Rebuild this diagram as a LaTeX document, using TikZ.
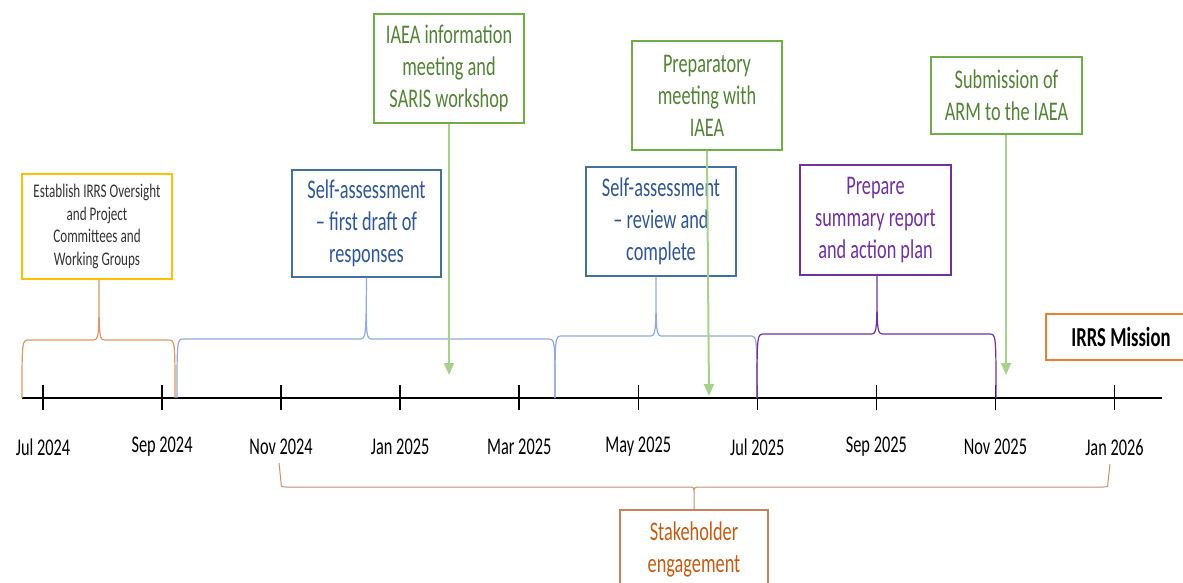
\documentclass[tikz,border=0pt]{standalone}
\usepackage{fontspec}
\setmainfont{Carlito}[FakeStretch=0.68]
\usetikzlibrary{arrows.meta}

\definecolor{gold}{HTML}{FFC000}
\definecolor{esttext}{HTML}{333333}
\definecolor{bracebrown}{RGB}{222,150,100}
\definecolor{braceblue}{HTML}{8FAADC}
\definecolor{boxblue}{HTML}{41719C}
\definecolor{textblue}{HTML}{2F5597}
\definecolor{purp}{HTML}{7030A0}
\definecolor{gborder}{HTML}{70AD47}
\definecolor{gtext}{HTML}{548235}
\definecolor{garrowc}{HTML}{A9D18E}
\definecolor{irrsorange}{HTML}{ED7D31}
\definecolor{stkborder}{RGB}{200,130,90}
\definecolor{stktext}{HTML}{C55A11}
\definecolor{stkbrace}{RGB}{195,145,110}

% upward curly brace: style, left x, right x, top y, middle x, tip point
\newcommand\upbrace[6]{%
  \draw[#1] (#2,398) .. controls (#2,#4) .. (#2+7,#4) -- (#5-7,#4)
    .. controls (#5,#4) .. (#6)
    .. controls (#5,#4) .. (#5+7,#4) -- (#3-7,#4)
    .. controls (#3,#4) .. (#3,398);}

\begin{document}
\begin{tikzpicture}[x=1pt,y=-1pt,
  every node/.style={inner sep=0pt},
  bigtext/.style={font=\fontsize{26.9}{32}\selectfont},
  box/.style={draw, bigtext, align=center, minimum width=150pt, line width=1.6pt},
  estbox/.style={box, draw=gold, text=esttext, line width=2pt,
    font=\fontsize{19.3}{22.7}\selectfont},
  bluebox/.style={box, draw=boxblue, text=textblue, line width=1.4pt},
  purpbox/.style={box, draw=purp, text=purp, line width=1.8pt},
  greenbox/.style={box, draw=gborder, text=gtext, line width=1.8pt},
  irrsbox/.style={box, draw=irrsorange, text=black, line width=2pt,
    font=\fontsize{27.4}{32}\selectfont\bfseries},
  stkbox/.style={box, draw=stkborder, text=stktext, line width=1.3pt},
  brace/.style={line width=1.2pt},
  garrow/.style={draw=garrowc, line width=2pt,
    -{Triangle[width=10pt,length=12pt,fill=garrowc]}},
  axisline/.style={line width=2pt, black},
  tick/.style={line width=1.5pt, black},
  datelabel/.style={font=\fontsize{24}{28}\selectfont, text=black}]

\useasboundingbox (0,0) rectangle (1183,582);
\clip (0,0) rectangle (1183,582);

% time axis with monthly ticks
\draw[axisline] (22,398) -- (1162,398);
\foreach \lab [count=\i from 0] in {Jul 2024,Sep 2024,Nov 2024,Jan 2025,Mar 2025,
    May 2025,Jul 2025,Sep 2025,Nov 2025,Jan 2026} {
  \pgfmathsetmacro\tx{43+119.05*\i}
  \draw[tick] (\tx,385) -- (\tx,410);
  \node[datelabel] (d\i) at (\tx,447) {\lab};
}

% activity boxes
\node[estbox, minimum width=150pt, minimum height=105pt] (est) at (97,226.5)
  {Establish IRRS Oversight\\and Project\\Committees and\\Working Groups};
\node[bluebox, minimum width=149pt, minimum height=107pt] (sa1) at (366.5,223.5)
  {Self-assessment\\– first draft of\\responses};
\node[bluebox, minimum height=109pt] (sa2) at (661,221.5)
  {Self-assessment\\– review and\\complete};
\node[purpbox, minimum width=151pt, minimum height=110pt] (prep) at (875.5,220)
  {Prepare\\summary report\\and action plan};

% milestone boxes
\node[greenbox, minimum height=109pt] (iaea) at (449,68.5)
  {IAEA information\\meeting and\\SARIS workshop};
\node[greenbox, minimum height=109pt] (pm) at (707,95.5)
  {Preparatory\\meeting with\\IAEA};
\node[greenbox, minimum width=151pt, minimum height=77pt] (sub) at (1006.5,95.5)
  {Submission of\\ARM to the IAEA};
\node[irrsbox, minimum height=46pt] (irrs) at (1121,337) {IRRS Mission};
\node[stkbox, minimum width=148pt, minimum height=79pt] (stk) at (694,549.5)
  {Stakeholder\\engagement};

% braces spanning the activity periods
\upbrace{brace, draw=bracebrown}{22}{175}{340}{99}{[xshift=2pt]est.south}
\upbrace{brace, draw=braceblue}{177}{555}{339}{366}{sa1.south}
\upbrace{brace, draw=braceblue}{555}{757}{336}{656}{[xshift=-5pt]sa2.south}
\upbrace{brace, draw=purp}{757}{996}{334}{877}{[xshift=1.5pt]prep.south}

% stakeholder engagement brace below the axis
\draw[brace, draw=stkbrace, line width=1pt]
  (279,463) -- (281,482) .. controls (281,487) .. (286,487) -- (688,487)
  .. controls (694,487) .. (694,494) -- (stk.north)
  (694,494) .. controls (694,487) .. (700,487) -- (1103,487)
  .. controls (1108,487) .. (1108,482) -- (1110,464);

% milestone arrows
\coordinate (m1) at (449,375);
\coordinate (m2) at (709,396);
\coordinate (m3) at (1006,375);
\draw[garrow] (iaea.south) -- (m1);
\draw[garrow] (pm.south) -- (m2);
\draw[garrow] ([xshift=-0.5pt]sub.south) -- (m3);

\end{tikzpicture}
\end{document}
